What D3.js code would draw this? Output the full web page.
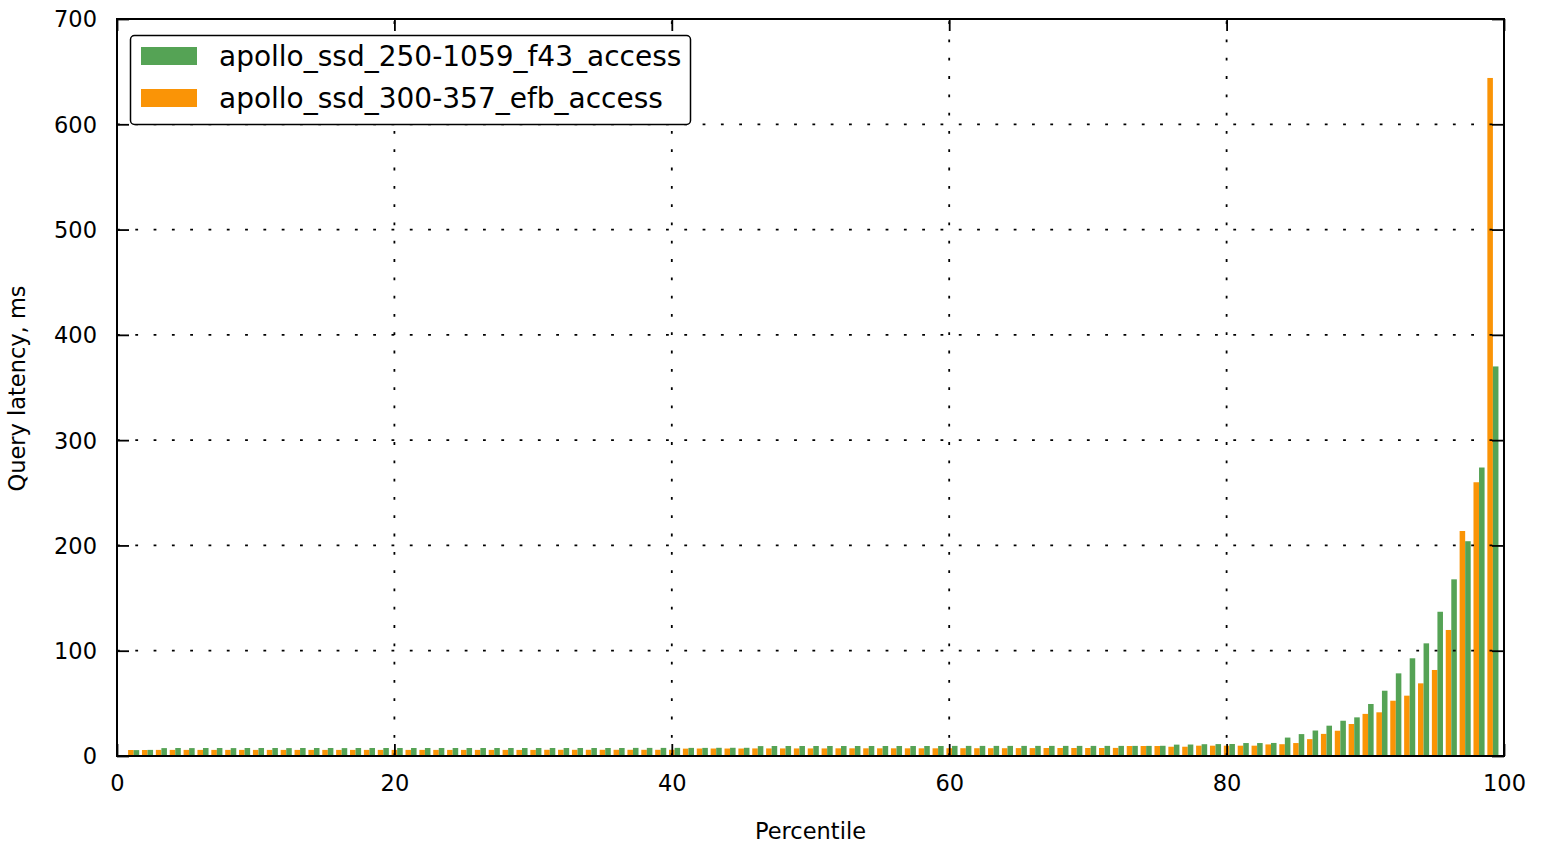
<!DOCTYPE html>
<html>
<head>
<meta charset="utf-8">
<script src="https://cdn.jsdelivr.net/npm/d3@7"></script>
<style>
  html, body { margin: 0; padding: 0; background: #fff; }
  svg { display: block; font-family: "DejaVu Sans", sans-serif; }
</style>
</head>
<body>
<svg id="chart" width="1545" height="849"></svg>
<script>
const percentiles = d3.range(1, 100);
const seriesNames = ["apollo_ssd_250-1059_f43_access", "apollo_ssd_300-357_efb_access"];
const greenValues = [
  5.6, 5.8, 7.5, 7.6, 7.5, 7.6, 7.6, 7.5, 7.6, 7.6,
  7.6, 7.5, 7.6, 7.6, 7.6, 7.5, 7.6, 7.6, 7.6, 7.6,
  7.6, 7.6, 7.6, 7.6, 7.6, 7.6, 7.6, 7.6, 7.6, 7.6,
  7.6, 7.6, 7.6, 7.6, 7.6, 7.6, 7.7, 7.7, 7.7, 7.7,
  7.7, 7.7, 7.8, 7.8, 7.8, 9.4, 9.5, 9.5, 9.5, 9.5,
  9.5, 9.5, 9.5, 9.5, 9.5, 9.5, 9.5, 9.5, 9.5, 9.6,
  9.6, 9.6, 9.6, 9.6, 9.6, 9.6, 9.6, 9.6, 9.6, 9.6,
  9.6, 9.6, 9.6, 9.6, 9.7, 10.8, 10.9, 11.2, 11.3, 11.4,
  12.3, 12.3, 12.4, 17.5, 20.8, 24.2, 28.8, 33.5, 36.7, 49.4,
  62, 78.5, 92.8, 107, 137, 167.8, 204, 274, 370
];
const orangeValues = [
  5.7, 5.7, 5.8, 5.8, 5.8, 5.8, 5.8, 5.8, 5.8, 5.8,
  5.8, 5.8, 5.8, 5.8, 5.8, 5.8, 5.8, 5.8, 5.8, 5.8,
  5.8, 5.8, 5.8, 5.8, 5.8, 5.8, 5.8, 5.8, 5.8, 5.8,
  5.9, 5.9, 5.9, 5.9, 5.9, 5.9, 5.9, 5.9, 5.9, 5.9,
  7.0, 7.1, 7.1, 7.1, 7.1, 7.2, 7.2, 7.2, 7.2, 7.2,
  7.2, 7.3, 7.3, 7.3, 7.3, 7.3, 7.3, 7.3, 7.3, 7.4,
  7.4, 7.4, 7.4, 7.4, 7.5, 7.5, 7.6, 7.6, 7.6, 7.6,
  7.6, 7.7, 9.5, 9.5, 9.5, 8.8, 8.8, 9.8, 9.8, 9.8,
  9.8, 9.8, 11.0, 11.2, 12.3, 16.0, 21.0, 24.0, 30.4, 40.0,
  41.5, 52.5, 57.3, 69.0, 81.7, 119.7, 213.7, 260, 644
];
const xTicks = [0, 20, 40, 60, 80, 100];
const yTicks = [0, 100, 200, 300, 400, 500, 600, 700];
const xLabel = "Percentile";
const yLabel = "Query latency, ms";

const GREEN = "#55a355";
const ORANGE = "#fa9406";
const L = 117, R = 1504, T = 19, B = 756;
const barW = 0.4;

const svg = d3.select("#chart");
const x = d3.scaleLinear().domain([0, 100]).range([L, R]);
const y = d3.scaleLinear().domain([0, 700]).range([B, T]);

// bars
const g = svg.append("g");
g.selectAll("rect.o").data(percentiles).join("rect")
  .attr("class", "o")
  .attr("x", p => x(p - barW / 2))
  .attr("width", p => x(p + barW / 2) - x(p - barW / 2))
  .attr("y", (p, i) => y(orangeValues[i]))
  .attr("height", (p, i) => y(0) - y(orangeValues[i]))
  .attr("fill", ORANGE);
g.selectAll("rect.g").data(percentiles).join("rect")
  .attr("class", "g")
  .attr("x", p => x(p + barW / 2))
  .attr("width", p => x(p + 1.5 * barW) - x(p + barW / 2))
  .attr("y", (p, i) => y(greenValues[i]))
  .attr("height", (p, i) => y(0) - y(greenValues[i]))
  .attr("fill", GREEN);

// grid
const grid = svg.append("g").attr("stroke", "#000").attr("stroke-width", 1.8)
  .attr("stroke-dasharray", "2.8,15.5");
grid.selectAll("line.gx").data(xTicks.filter(v => v > 0 && v < 100)).join("line")
  .attr("x1", d => x(d)).attr("x2", d => x(d)).attr("y1", B).attr("y2", T);
grid.selectAll("line.gy").data(yTicks.filter(v => v > 0 && v < 700)).join("line")
  .attr("y1", d => y(d)).attr("y2", d => y(d)).attr("x1", L).attr("x2", R);

// axes with inward ticks
const fs = 22.5;
const axB = svg.append("g").attr("transform", `translate(0,${B})`)
  .call(d3.axisBottom(x).tickValues(xTicks).tickSizeInner(-12).tickSizeOuter(0).tickPadding(19).tickFormat(d3.format("d")));
const axT = svg.append("g").attr("transform", `translate(0,${T})`)
  .call(d3.axisTop(x).tickValues(xTicks).tickSizeInner(-12).tickSizeOuter(0).tickFormat(""));
const axL = svg.append("g").attr("transform", `translate(${L},0)`)
  .call(d3.axisLeft(y).tickValues(yTicks).tickSizeInner(-12).tickSizeOuter(0).tickPadding(20).tickFormat(d3.format("d")));
const axR = svg.append("g").attr("transform", `translate(${R},0)`)
  .call(d3.axisRight(y).tickValues(yTicks).tickSizeInner(-12).tickSizeOuter(0).tickFormat(""));
[axB, axT, axL, axR].forEach(a => {
  a.select(".domain").remove();
  a.selectAll(".tick line").attr("stroke", "#000").attr("stroke-width", 1.8);
  a.selectAll("text").attr("font-family", "DejaVu Sans").attr("font-size", fs).attr("fill", "#000");
});
axL.selectAll("text").attr("dy", "0.35em");

// frame
svg.append("rect").attr("x", L).attr("y", T).attr("width", R - L).attr("height", B - T)
  .attr("fill", "none").attr("stroke", "#000").attr("stroke-width", 2);

// labels
svg.append("text").attr("x", (L + R) / 2).attr("y", 839).attr("text-anchor", "middle")
  .attr("font-size", 22.5).text(xLabel);
svg.append("text").attr("transform", `translate(25,${(T + B) / 2 + 1}) rotate(-90)`)
  .attr("text-anchor", "middle").attr("font-size", 22.5).text(yLabel);

// legend
const lg = svg.append("g");
lg.append("rect").attr("x", 130.5).attr("y", 35.5).attr("width", 560).attr("height", 89)
  .attr("rx", 4).attr("fill", "#fff").attr("stroke", "#000").attr("stroke-width", 1.5);
const items = [{name: seriesNames[0], color: GREEN}, {name: seriesNames[1], color: ORANGE}];
items.forEach((it, i) => {
  const cy = 56 + i * 42;
  lg.append("rect").attr("x", 141).attr("y", cy - 9).attr("width", 56).attr("height", 18).attr("fill", it.color);
  lg.append("text").attr("x", 219).attr("y", cy).attr("dy", "0.35em")
    .attr("font-size", 28).attr("fill", "#000").text(it.name);
});
</script>
</body>
</html>
